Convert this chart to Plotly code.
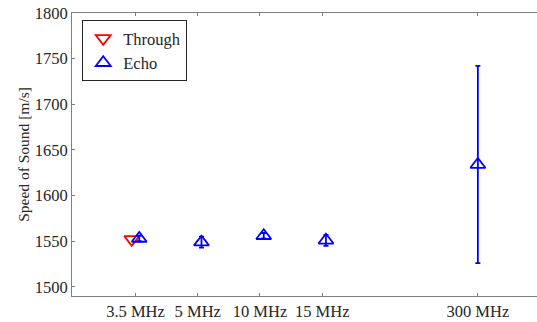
import plotly.graph_objects as go

categories = ["3.5 MHz", "5 MHz", "10 MHz", "15 MHz", "300 MHz"]
cat_pos = [1, 2, 3, 4, 6.5]

through_cat = ["3.5 MHz"]
through_val = [1552]

echo_cat = ["3.5 MHz", "5 MHz", "10 MHz", "15 MHz", "300 MHz"]
echo_val = [1553, 1549, 1556, 1551, 1634]
echo_err = [3, 6, 3, 6, 108]

pos = dict(zip(categories, cat_pos))
through_x = [pos[c] - 0.06 for c in through_cat]
echo_x = [pos[c] + (0.06 if c != "300 MHz" else 0) for c in echo_cat]

RED = "#ff0000"
BLUE = "#0000ff"
FONT = "Liberation Serif, Times New Roman, Times, serif"
FS = 16.5

fig = go.Figure()
fig.add_trace(go.Scatter(
    x=through_x, y=through_val, mode="markers", name="Through",
    marker=dict(symbol="triangle-down-open", size=13, color=RED, line=dict(width=1.8, color=RED)),
))
fig.add_trace(go.Scatter(
    x=echo_x, y=echo_val, mode="markers", name="Echo",
    marker=dict(symbol="triangle-up-open", size=13, color=BLUE, line=dict(width=1.8, color=BLUE)),
    error_y=dict(type="data", array=echo_err, visible=True, color=BLUE, thickness=1.8, width=2.5),
))

fig.update_layout(
    width=537, height=322,
    margin=dict(l=72, r=0, t=13, b=26, autoexpand=False),
    paper_bgcolor="white", plot_bgcolor="white",
    font=dict(family=FONT, size=FS, color="#262626"),
    showlegend=True,
    legend=dict(
        x=0.022, y=0.975, xanchor="left", yanchor="top",
        bgcolor="white", bordercolor="#262626", borderwidth=1,
        font=dict(family=FONT, size=FS, color="#262626"),
        tracegroupgap=0, itemwidth=30,
    ),
    xaxis=dict(
        range=[-0.02, 7.45], tickmode="array", tickvals=cat_pos, ticktext=categories,
        showgrid=False, zeroline=False, showline=True, linecolor="#808080", linewidth=1,
        mirror="ticks", ticks="inside", ticklen=3, tickcolor="#808080", automargin=False,
        tickfont=dict(family=FONT, size=FS, color="#262626"),
    ),
    yaxis=dict(
        range=[1490, 1800], tickmode="array", tickvals=[1500, 1550, 1600, 1650, 1700, 1750, 1800],
        showgrid=False, zeroline=False, showline=True, linecolor="#808080", linewidth=1,
        ticks="inside", ticklen=3, tickcolor="#808080", automargin=False,
        tickfont=dict(family=FONT, size=FS, color="#262626"),
        title=dict(text="Speed of Sound [m/s]", font=dict(family=FONT, size=15.5, color="#262626"), standoff=1),
    ),
)

fig.write_html(
    "out.html",
    config={"displayModeBar": False},
    post_script="document.body.style.margin='0';document.body.style.overflow='hidden';",
)
